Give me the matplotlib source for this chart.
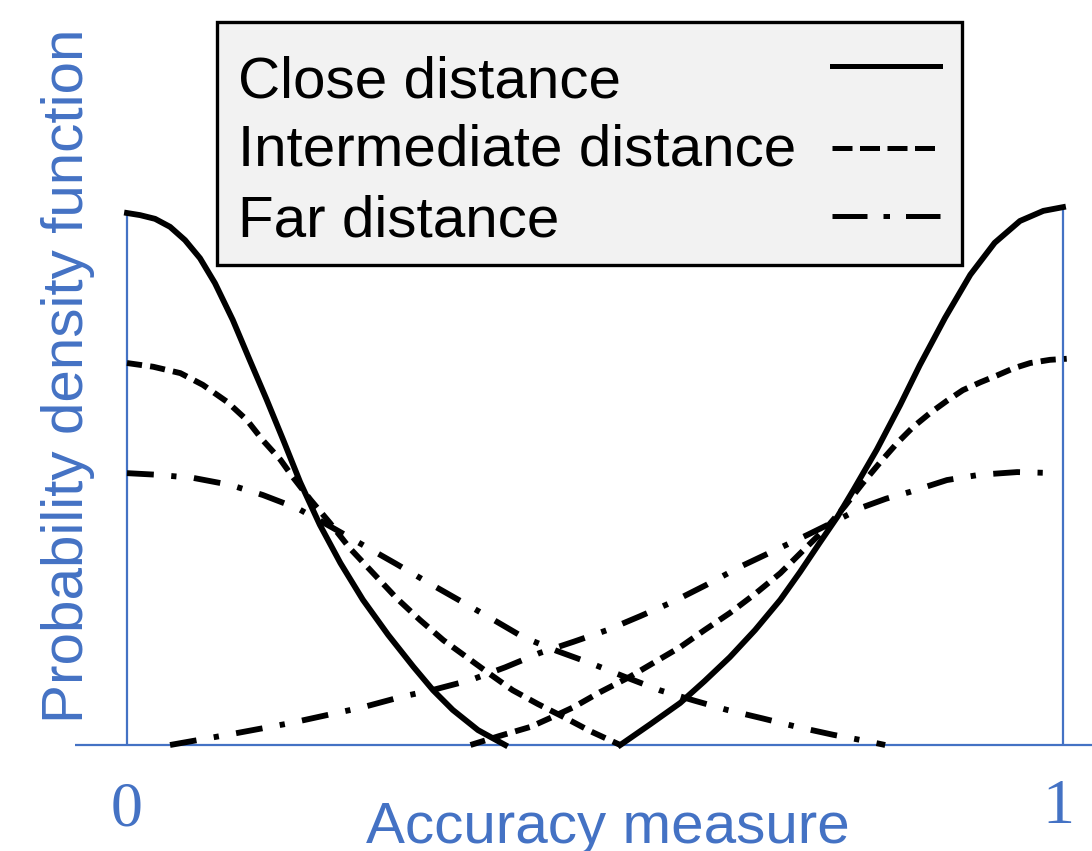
import matplotlib
matplotlib.use("Agg")
import matplotlib.pyplot as plt
from matplotlib.lines import Line2D
from matplotlib.patches import Rectangle

# curve samples, x in [0, 1], y relative to the close-distance peak
close_left_x = [0, 0.014, 0.030, 0.046, 0.062, 0.078, 0.094, 0.113, 0.131, 0.149, 0.167,
                0.185, 0.206, 0.228, 0.252, 0.279, 0.306, 0.327, 0.348, 0.375, 0.404]
close_left_y = [1.0, 0.996, 0.989, 0.974, 0.949, 0.915, 0.868, 0.799, 0.724, 0.650, 0.573,
                0.494, 0.414, 0.342, 0.273, 0.207, 0.147, 0.103, 0.066, 0.028, 0.0]
close_right_x = [0.527, 0.559, 0.591, 0.617, 0.644, 0.671, 0.698, 0.719, 0.740, 0.759, 0.776,
                 0.801, 0.826, 0.847, 0.874, 0.901, 0.927, 0.954, 0.979, 1.0]
close_right_y = [0.0, 0.039, 0.079, 0.120, 0.165, 0.216, 0.273, 0.325, 0.380, 0.429, 0.479,
                 0.555, 0.639, 0.714, 0.803, 0.884, 0.944, 0.985, 1.004, 1.011]

inter_left_x = [0, 0.028, 0.057, 0.081, 0.107, 0.128, 0.145, 0.164, 0.177, 0.196, 0.217,
                0.238, 0.263, 0.288, 0.313, 0.338, 0.363, 0.388, 0.412, 0.439, 0.466,
                0.495, 0.527]
inter_left_y = [0.718, 0.711, 0.699, 0.677, 0.645, 0.611, 0.573, 0.536, 0.504, 0.461, 0.417,
                0.370, 0.323, 0.276, 0.235, 0.197, 0.165, 0.133, 0.103, 0.077, 0.053,
                0.026, 0.0]
inter_right_x = [0.367, 0.398, 0.431, 0.455, 0.477, 0.505, 0.537, 0.564, 0.591, 0.617, 0.644,
                 0.671, 0.698, 0.722, 0.748, 0.767, 0.786, 0.805, 0.823, 0.840, 0.858,
                 0.876, 0.893, 0.912, 0.930, 0.947, 0.965, 0.986, 1.004]
inter_right_y = [0.0, 0.017, 0.034, 0.053, 0.071, 0.099, 0.128, 0.156, 0.184, 0.216, 0.248,
                 0.284, 0.323, 0.365, 0.410, 0.449, 0.492, 0.532, 0.568, 0.598, 0.624,
                 0.647, 0.667, 0.682, 0.695, 0.708, 0.718, 0.724, 0.726]

far_left_x = [0, 0.032, 0.071, 0.110, 0.145, 0.182, 0.216, 0.252, 0.287, 0.321, 0.355, 0.388,
              0.423, 0.459, 0.495, 0.532, 0.569, 0.605, 0.641, 0.679, 0.716, 0.755, 0.794,
              0.810]
far_left_y = [0.511, 0.508, 0.502, 0.489, 0.470, 0.445, 0.412, 0.376, 0.341, 0.306, 0.272,
              0.239, 0.203, 0.177, 0.154, 0.128, 0.103, 0.084, 0.066, 0.050, 0.034, 0.019,
              0.006, 0.0]
far_right_x = [0.046, 0.110, 0.174, 0.213, 0.252, 0.292, 0.330, 0.367, 0.404, 0.441, 0.477,
               0.513, 0.548, 0.583, 0.619, 0.655, 0.691, 0.727, 0.757, 0.786, 0.811, 0.837,
               0.876, 0.911, 0.951, 0.994]
far_right_y = [0.0, 0.020, 0.041, 0.056, 0.071, 0.090, 0.105, 0.122, 0.146, 0.173, 0.194,
               0.216, 0.242, 0.269, 0.301, 0.335, 0.365, 0.395, 0.421, 0.447, 0.463, 0.476,
               0.498, 0.508, 0.513, 0.511]

labels = ["Close distance", "Intermediate distance", "Far distance"]

blue = "#4472C4"
W, H = 1092, 851
fig = plt.figure(figsize=(W / 100, H / 100), dpi=100)
ax = fig.add_axes([75 / W, (H - 760) / H, 1 - 75 / W, 760 / H])
ax.set_xlim((75 - 127) / 936, (1092 - 127) / 936)
ax.set_ylim(-15 / 532, 745 / 532)
ax.axis("off")

ax.axhline(0, color=blue, lw=1.6, zorder=1)
ax.vlines([0], 0, 1.0, color=blue, lw=1.6, zorder=1)
ax.vlines([1], 0, 1.011, color=blue, lw=1.6, zorder=1)

lw = 4.2
dash_style = (0, (2.6, 1.4))
dashdot_style = (0, (4.6, 3.0, 0.9, 3.0))
styles = ["-", dash_style, dashdot_style]

curves = [(close_left_x, close_left_y, close_right_x, close_right_y),
          (inter_left_x, inter_left_y, inter_right_x, inter_right_y),
          (far_left_x, far_left_y, far_right_x, far_right_y)]
for (lx, ly, rx, ry), ls in zip(curves, styles):
    ax.plot(lx, ly, color="black", lw=lw, ls=ls, solid_joinstyle="round")
    ax.plot(rx, ry, color="black", lw=lw, ls=ls, solid_joinstyle="round")

# legend box drawn by hand so the labels sit left-aligned with handles on the right
fig.add_artist(Rectangle((217 / W, 1 - 265 / H), 745 / W, 243 / H, transform=fig.transFigure,
                         facecolor="#f2f2f2", edgecolor="black", lw=2.4, zorder=5))
leg_styles = ["-", (0, (4.0, 1.5)), (0, (7.0, 3.2, 1.3, 3.2))]
baselines = [97, 166, 236]
handle_y = [66, 148, 216]
for lab, ls, yb, yh in zip(labels, leg_styles, baselines, handle_y):
    fig.text(238 / W, 1 - yb / H, lab, fontsize=42, family="Liberation Sans",
             ha="left", va="baseline", zorder=6)
    fig.add_artist(Line2D([832 / W, 940 / W], [1 - yh / H, 1 - yh / H], color="black",
                          lw=3.6, ls=ls, transform=fig.transFigure, zorder=6))

fig.text(127 / W, 1 - 810 / H, "0", color=blue, fontsize=46, family="Liberation Serif",
         ha="center", va="center")
fig.text(1058 / W, 1 - 808 / H, "1", color=blue, fontsize=46, family="Liberation Serif",
         ha="center", va="center")
fig.text(608 / W, 1 - 843 / H, "Accuracy measure", color=blue, fontsize=42,
         family="Liberation Sans", ha="center", va="baseline")
fig.text(68 / W, 1 - 376 / H, "Probability density function", color=blue, fontsize=42,
         family="Liberation Sans", ha="center", va="center", rotation=90)

fig.savefig("out.png", dpi=100)
